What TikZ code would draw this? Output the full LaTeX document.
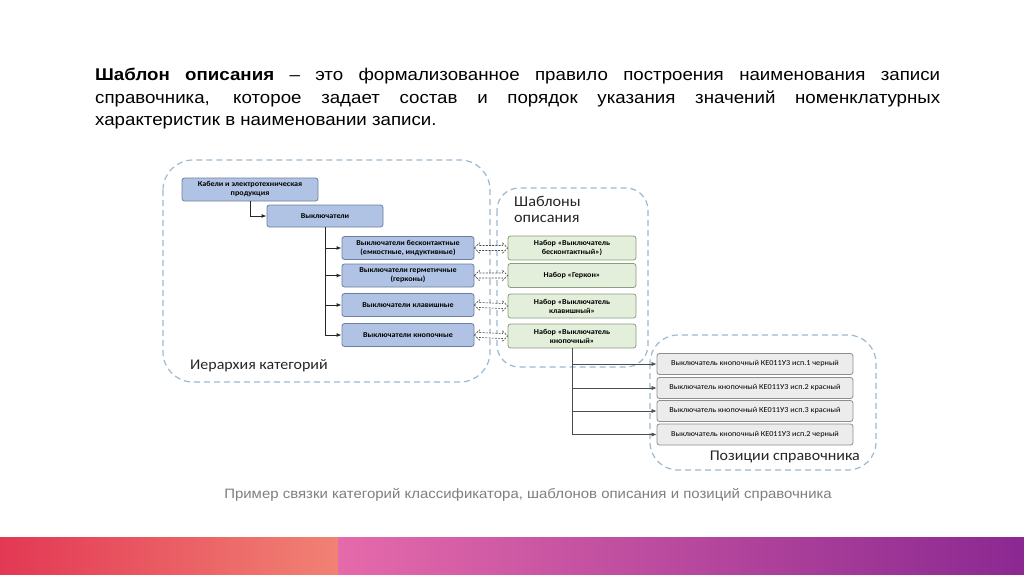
\documentclass[tikz,border=0pt]{standalone}
\usepackage{fontspec}
\setmainfont[FakeStretch=1.1]{Liberation Sans}
\newfontfamily\diafont[FakeStretch=1.08]{Carlito}
\usepackage{xcolor}
\usepackage{tikz}
\usetikzlibrary{arrows.meta,positioning,calc}

\definecolor{catfill}{HTML}{B1C3E4}
\definecolor{catdraw}{HTML}{6C7F9F}
\definecolor{tplfill}{HTML}{E3EFDA}
\definecolor{tpldraw}{HTML}{8C9E7E}
\definecolor{posfill}{HTML}{ECECEC}
\definecolor{posdraw}{HTML}{8E8E8E}
\definecolor{framec}{HTML}{9DB9CF}
\definecolor{captc}{HTML}{7F7F7F}

% hollow two-headed arrow between two anchors on one level
\newcommand{\linkarrow}[2]{%
  \draw[link] (#1) -- ++(5,-5) -- ++(0,2.5) -- ($(#2)+(-5,-2.5)$) -- ++(0,-2.5) -- (#2)
    -- ++(-5,5) -- ++(0,-2.5) -- ($(#1)+(5,2.5)$) -- ++(0,2.5) -- cycle;}

\begin{document}
\begin{tikzpicture}[
  x=1pt, y=-1pt,
  every node/.style={inner sep=1pt},
  cat/.style={draw=catdraw, fill=catfill, rounded corners=2.5pt, line width=0.8pt, align=center, font=\diafont\bfseries\fontsize{7.5}{9}\selectfont, minimum height=23pt},
  tpl/.style={draw=tpldraw, fill=tplfill, rounded corners=2.5pt, line width=0.8pt, align=center, font=\diafont\bfseries\fontsize{7.5}{9}\selectfont, minimum width=128pt, minimum height=24pt},
  itembox/.style={draw=posdraw, fill=posfill, rounded corners=2.5pt, line width=0.8pt, align=center, font=\diafont\fontsize{7.6}{9}\selectfont, minimum width=196pt, minimum height=21pt},
  frame/.style={draw=framec, dash pattern=on 6pt off 4pt, line width=1.2pt},
  lbl/.style={font=\diafont\fontsize{14.8}{16}\selectfont, text=black!85, align=left},
  arr/.style={-{Latex[length=5pt,width=4pt]}, line width=1pt, black!85},
  thinarr/.style={-{Latex[length=5pt,width=4pt]}, line width=0.6pt, black!70},
  link/.style={draw=black!70, fill=white, line width=0.6pt, dash pattern=on 2pt off 1.2pt, line join=miter}
]
\useasboundingbox (0,0) rectangle (1024,574);
\fill[white] (0,0) rectangle (1024,574);

% title text
\node[anchor=north west, text width=845pt, align=justify, inner sep=0pt,
      font=\fontsize{17}{22.5}\selectfont] (title) at (95,68)
  {\textbf{Шаблон описания} – это формализованное правило построения наименования записи\linebreak
   справочника, которое задает состав и порядок указания значений номенклатурных\linebreak
   характеристик в наименовании записи.};

% groups
\draw[frame, rounded corners=30pt] (163,160) rectangle (490,382);
\draw[frame, rounded corners=22pt] (497,188) rectangle (648,367);
\draw[frame, rounded corners=28pt] (650,335) rectangle (876,470);

\node[lbl, anchor=west] (hier) at (189,366) {Иерархия категорий};
\node[lbl, anchor=north west, font=\diafont\fontsize{15}{16}\selectfont] (tpls) at (513,195) {Шаблоны\\описания};
\node[lbl, anchor=east] (items) at (861,457) {Позиции справочника};

% categories
\node[cat, minimum width=136pt] (c1) at (250,189.5) {Кабели и электротехническая\\продукция};
\node[cat, minimum width=116pt, minimum height=22pt] (c2) at (325,216) {Выключатели};
\node[cat, minimum width=132pt] (c3) at (408,248) {Выключатели бесконтактные\\(емкостные, индуктивные)};
\node[cat, minimum width=132pt] (c4) at (408,275.5) {Выключатели герметичные\\(герконы)};
\node[cat, minimum width=132pt] (c5) at (408,305) {Выключатели клавишные};
\node[cat, minimum width=132pt] (c6) at (408,335) {Выключатели кнопочные};

% templates
\node[tpl] (t1) at (572,248) {Набор «Выключатель\\бесконтактный»)};
\node[tpl] (t2) at (572,275.5) {Набор «Геркон»};
\node[tpl] (t3) at (572,306) {Набор «Выключатель\\клавишный»};
\node[tpl] (t4) at (572,336) {Набор «Выключатель\\кнопочный»};

% positions
\node[itembox] (p1) at (755,364) {Выключатель кнопочный КЕ011У3 исп.1 черный};
\node[itembox] (p2) at (755,388) {Выключатель кнопочный КЕ011У3 исп.2 красный};
\node[itembox] (p3) at (755,411) {Выключатель кнопочный КЕ011У3 исп.3 красный};
\node[itembox] (p4) at (755,434.5) {Выключатель кнопочный КЕ011У3 исп.2 черный};

% hierarchy
\draw[arr] (c1.south) |- (c2.west);
\draw[arr] (c2.south) |- (c3.west);
\draw[arr] (c2.south) |- (c4.west);
\draw[arr] (c2.south) |- (c5.west);
\draw[arr] (c2.south) |- (c6.west);

% category <-> template
\linkarrow{c3.east}{t1.west}
\linkarrow{c4.east}{t2.west}
\linkarrow{c5.east}{t3.west}
\linkarrow{c6.east}{t4.west}

% template -> positions
\draw[thinarr] (t4.south) |- (p1.west);
\draw[thinarr] (t4.south) |- (p2.west);
\draw[thinarr] (t4.south) |- (p3.west);
\draw[thinarr] (t4.south) |- (p4.west);

% caption
\node[font=\fontsize{13.6}{15}\selectfont, text=captc] (capt) at (528,495)
  {Пример связки категорий классификатора, шаблонов описания и позиций справочника};

% bottom band
\shade[left color={rgb,255:red,227;green,56;blue,84}, right color={rgb,255:red,241;green,130;blue,116}]
  (0,537) rectangle (338,574);
\shade[left color={rgb,255:red,229;green,106;blue,170}, right color={rgb,255:red,139;green,40;blue,145}]
  (338,537) rectangle (1024,574);
\end{tikzpicture}
\end{document}
